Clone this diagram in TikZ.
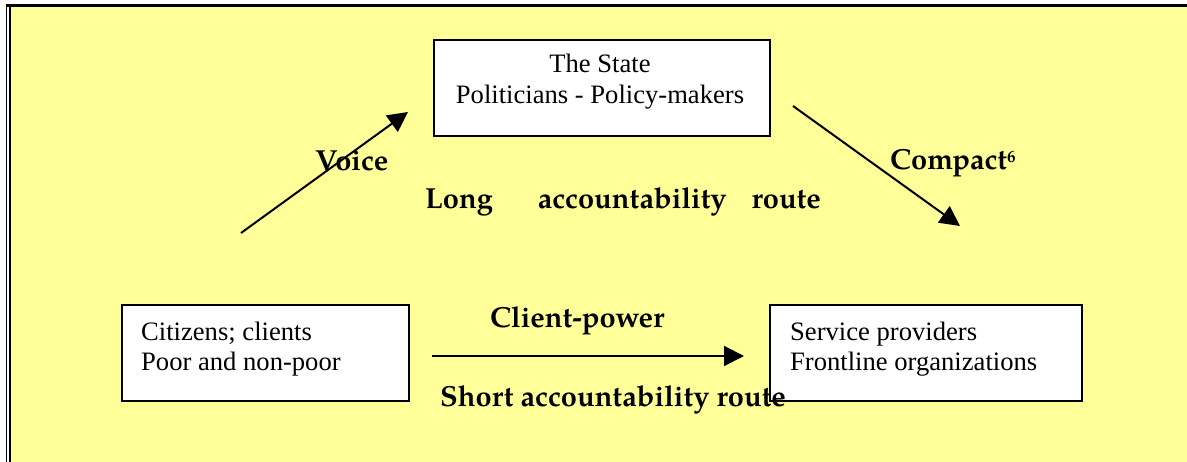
\documentclass[tikz,border=0pt]{standalone}
\usepackage{fontspec}
\usetikzlibrary{arrows.meta}
\setmainfont{Liberation Serif}
\newfontfamily\labelfont{texgyrepagella}[Extension=.otf,UprightFont=*-regular,BoldFont=*-bold]
\definecolor{paleyellow}{HTML}{FFFF99}
\begin{document}
\begin{tikzpicture}[x=1pt,y=-1pt,
  boxshape/.style={draw=black,line width=2pt,fill=white,rectangle,inner sep=0pt,anchor=north west},
  boxtext/.style={font=\fontsize{26.6}{30.7}\selectfont,inner sep=0pt},
  routelabel/.style={font=\labelfont\bfseries\fontsize{29}{34}\selectfont,inner sep=0pt,anchor=base west},
  arr/.style={line width=2pt,-{Triangle[length=20pt,width=20pt]}}]
  \useasboundingbox (0,0) rectangle (1187,462);
  % page and framed panel
  \fill[white] (0,0) rectangle (1187,462);
  \fill[paleyellow] (11,7.3) rectangle (1187,462);
  \fill[black] (6,4) rectangle (1187,7.3);
  \fill[black] (6,4) rectangle (7.3,462);
  \fill[black] (9,7.3) rectangle (11,462);

  % the three actors (text anchored on the baseline of its last line)
  \node[boxshape,minimum width=336pt,minimum height=96pt] (state) at (433,39) {};
  \node[boxtext,align=center,anchor=base] (statetext) at (600,103.5)
    {The State\\Politicians - Policy-makers};
  \node[boxshape,minimum width=287pt,minimum height=96pt] (citizens) at (121,304) {};
  \node[boxtext,align=left,anchor=base west] (citizenstext) at (141,371)
    {Citizens; clients\\Poor and non-poor};
  \node[boxshape,minimum width=312pt,minimum height=96pt] (providers) at (769,304) {};
  \node[boxtext,align=left,anchor=base west] (providerstext) at (790,371)
    {Service providers\\Frontline organizations};

  % connector end points
  \coordinate (voiceA) at (241,233);
  \coordinate (voiceB) at (408,112);
  \coordinate (compactA) at (793,106);
  \coordinate (compactB) at (960,226);
  \coordinate (clientA) at (432,356);
  \coordinate (clientB) at (744,356);

  \draw[arr] (voiceA) -- (voiceB);
  \draw[arr] (compactA) -- (compactB);
  \draw[arr] (clientA) -- (clientB);

  % route labels
  \node[routelabel] (voice) at (315,171) {Voice};
  \node[routelabel] (compact) at (890,170)
    {Compact\raisebox{7pt}{\fontsize{17}{17}\selectfont 6}};
  \node[routelabel] (longroute) at (425,209)
    {Long\hspace{45pt}accountability\hspace{25pt}route};
  \node[routelabel] (clientpower) at (490,328) {Client-power};
  \node[routelabel] (shortroute) at (440,407) {Short accountability route};
\end{tikzpicture}
\end{document}
